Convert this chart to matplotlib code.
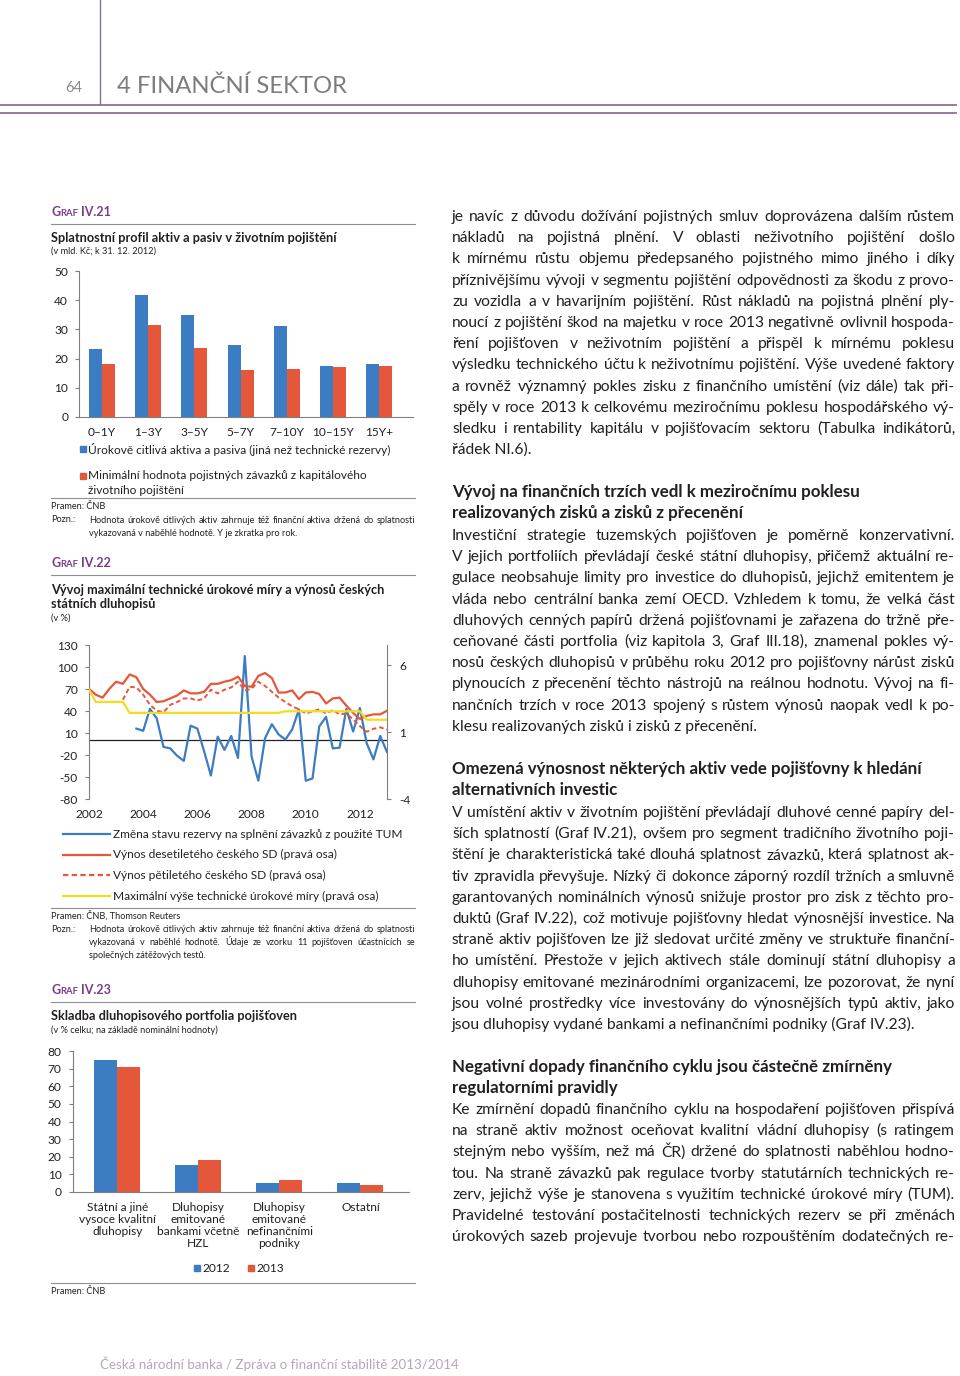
import numpy as np
import matplotlib
matplotlib.use("Agg")
import matplotlib.pyplot as plt
from matplotlib.lines import Line2D
from matplotlib.patches import Rectangle

plt.rcParams["font.family"] = ["Lato", "DejaVu Sans"]
plt.rcParams["axes.unicode_minus"] = False

nan = np.nan

# Graf IV.21 - maturity profile (bn CZK)
maturity = ["0–1Y", "1–3Y", "3–5Y", "5–7Y", "7–10Y", "10–15Y", "15Y+"]
rate_sensitive = [23.3, 41.7, 35.0, 24.5, 31.0, 17.5, 18.0]
min_liabilities = [18.0, 31.5, 23.7, 16.0, 16.5, 17.2, 17.3]

# Graf IV.22 - quarterly, 2002Q1 .. 2013Q1
year_labels = ["2002", "2004", "2006", "2008", "2010", "2012"]
reserve_change = [nan, nan, nan, nan, nan, nan, nan,
                  16, 13, 43, 30, -9, -11, -21, -28, 20, 16, -15, -48, 5, -13,
                  6, -24, 115, -22, -55, 3, 22, 8, 1, 15, 42, -55, -52, 19, 32,
                  -11, -10, 43, 12, 44, -4, -26, 6, -16]
yield_10y = [4.22, 3.79, 3.57, 4.22, 4.76, 4.60, 5.30, 5.09, 4.22, 3.79,
             3.24, 3.30, 3.51, 3.73, 4.11, 3.89, 3.89, 4.00, 4.60, 4.60,
             4.76, 4.87, 5.14, 4.44, 4.38, 5.19, 5.41, 5.03, 3.95, 3.95,
             4.11, 3.46, 3.95, 4.00, 3.84, 3.13, 3.51, 3.57, 2.97, 2.43,
             1.97, 2.21, 2.32, 2.32, 2.59]
yield_5y = [nan, nan, nan, nan, nan,
            3.41, 4.38, 4.33, 3.79, 3.03, 2.59, 2.48, 3.03, 3.24, 3.51,
            3.51, 3.35, 3.51, 4.16, 3.89, 4.16, 4.33, 4.76, 4.11, 4.22,
            4.76, 4.44, 4.00, 3.57, 3.24, 2.92, 2.70, 2.38, 2.54, 2.70,
            2.38, 2.65, 2.32, 2.38, 1.94, 1.45, 1.02, 1.24, 1.35, 1.18]
tech_rate = [4.15, 3.25, 3.25, 3.25, 3.25, 3.25, 2.43, 2.43, 2.43, 2.43,
             2.43, 2.43, 2.43, 2.43, 2.43, 2.43, 2.43, 2.43, 2.43, 2.43,
             2.43, 2.43, 2.43, 2.43, 2.43, 2.43, 2.43, 2.43, 2.43, 2.55,
             2.55, 2.55, 2.55, 2.55, 2.55, 2.55, 2.55, 2.55, 2.55, 2.55,
             2.55, 1.92, 1.92, 1.92, 1.92]

# Graf IV.23 - bond portfolio structure (% of total)
bond_types = ["Státní a jiné\nvysoce kvalitní\ndluhopisy",
              "Dluhopisy\nemitované\nbankami včetně\nHZL",
              "Dluhopisy\nemitované\nnefinančními\npodniky",
              "Ostatní"]
share_2012 = [74.7, 15.5, 5.3, 4.9]
share_2013 = [71.2, 18.3, 6.8, 3.8]

W, H = 960, 1376
INK = "#231f20"
BLUE = "#3c7cc3"
RED = "#e5573a"
YELLOW = "#f5dc1f"
PURPLE = "#7b3c8c"
RULE = "#8f8f8f"
CH = 8.6      # chart text size
NOTE = 6.6    # source / note text size
TITLE = 9.2

fig = plt.figure(figsize=(W / 100, H / 100), dpi=100)
renderer = fig.canvas.get_renderer()


def fx(x):
    return x / W


def fy(y):
    return 1 - y / H


def put(x, y, s, size, **kw):
    kw.setdefault("color", INK)
    kw.setdefault("va", "center")
    return fig.text(fx(x), fy(y), s, fontsize=size, **kw)


def hline(x0, x1, y, color=RULE, lw=0.8):
    fig.add_artist(Line2D([fx(x0), fx(x1)], [fy(y), fy(y)], color=color, lw=lw))


def width_of(s, size, weight="normal"):
    t = put(0, 0, s, size, weight=weight)
    w = t.get_window_extent(renderer).width
    t.remove()
    return w


def fit_one(line, size, span, weight="normal"):
    w = width_of(line, size, weight)
    return size if w <= span else size * span / w


def justify(x0, x1, y, line, size, weight="normal", last=False):
    if last:
        put(x0, y, line, size, weight=weight, va="baseline")
        return
    words = line.split()
    arts = [put(x0, y, w, size, weight=weight, va="baseline") for w in words]
    widths = [a.get_window_extent(renderer).width for a in arts]
    gap = (x1 - x0 - sum(widths)) / max(len(words) - 1, 1)
    x = x0
    for a, w in zip(arts, widths):
        a.set_x(fx(x))
        x += w + gap


def block(x0, x1, y0, pitch, lines, size, last=True):
    for k, line in enumerate(lines):
        justify(x0, x1, y0 + k * pitch, line, fit_one(line, size, x1 - x0),
                last=last and k == len(lines) - 1)


def graf(y, num):
    x = 51
    for s, size in (("G", 9.0), ("RAF", 6.8)):
        t = put(x, y, s, size, weight="bold", color=PURPLE, va="baseline")
        x += t.get_window_extent(renderer).width + 0.5
    put(x + 2.5, y, "IV." + num, 9.0, weight="bold", color=PURPLE, va="baseline")
    hline(51, 415, y + 8)


def style(ax, size=CH):
    ax.set_facecolor("none")
    for s in ax.spines.values():
        s.set_color("#7f7f7f")
        s.set_linewidth(0.8)
    ax.tick_params(axis="y", direction="out", length=3, width=0.8,
                   color="#7f7f7f", labelsize=size, labelcolor=INK, pad=5)
    ax.tick_params(axis="x", length=0, labelsize=size, labelcolor=INK, pad=7)


# ---- page header / footer
fig.add_artist(Line2D([fx(100), fx(100)], [fy(0), fy(104)], color="#8b6f9b", lw=1))
hline(0, 956, 104.5, color="#8b6f9b", lw=1.3)
hline(0, 956, 112.5, color="#8b6f9b", lw=1.3)
put(74, 88, "64", 10.5, color="#8a8a8a", ha="center")
put(117, 86, "4 FINANČNÍ SEKTOR", 17.2, color="#7d7d7d")
put(100, 1364, "Česká národní banka / Zpráva o finanční stabilitě 2013/2014",
    9.6, color="#b7a5bf")

# ---- Graf IV.21
graf(216, "21")
put(51, 238, "Splatnostní profil aktiv a pasiv v životním pojištění", TITLE, weight="bold")
put(51, 251, "(v mld. Kč; k 31. 12. 2012)", NOTE)

ax1 = fig.add_axes([fx(79.3), fy(417), (413 - 79.3) / W, (417 - 271) / H])
xs = np.arange(len(maturity))
bw = 0.28
ax1.bar(xs - bw / 2, rate_sensitive, bw, color=BLUE)
ax1.bar(xs + bw / 2, min_liabilities, bw, color=RED)
ax1.set_xlim(-0.49, 6.73)
ax1.set_ylim(0, 50)
ax1.set_yticks(range(0, 51, 10))
ax1.set_xticks(xs, maturity)
ax1.spines[["top", "right"]].set_visible(False)
style(ax1)

fig.add_artist(Rectangle((fx(80), fy(452)), 6 / W, 6 / H, color=BLUE))
put(88, 449, "Úrokově citlivá aktiva a pasiva (jiná než technické rezervy)", CH)
fig.add_artist(Rectangle((fx(80), fy(479)), 6 / W, 6 / H, color=RED))
put(88, 476, "Minimální hodnota pojistných závazků z kapitálového", CH)
put(88, 490, "životního pojištění", CH)
hline(51, 415, 498)
put(51, 507, "Pramen: ČNB", NOTE)
put(51, 520, "Pozn.:", NOTE)
block(89, 415, 523, 13, [
    "Hodnota úrokově citlivých aktiv zahrnuje též finanční aktiva držená do splatnosti",
    "vykazovaná v naběhlé hodnotě. Y je zkratka pro rok.",
], NOTE)

# ---- Graf IV.22
graf(567, "22")
put(51, 590, "Vývoj maximální technické úrokové míry a výnosů českých", TITLE, weight="bold")
put(51, 604, "státních dluhopisů", TITLE, weight="bold")
put(51, 618, "(v %)", NOTE)

quarters = np.arange(len(yield_10y))
ax2 = fig.add_axes([fx(89), fy(799), (387 - 89) / W, (799 - 645) / H])
ax2.axhline(0, color="#222222", lw=0.9)
ax2.plot(quarters, reserve_change, color=BLUE, lw=1.6)
ax2.set_ylim(-80, 130)
ax2.set_yticks(range(-80, 131, 30))
ax2.set_xlim(0, 44)
ax2.set_xticks(range(0, 41, 8), year_labels)
ax2.spines[["top", "bottom", "right"]].set_visible(False)
style(ax2)

axr = ax2.twinx()
axr.plot(quarters, yield_10y, color=RED, lw=1.6)
axr.plot(quarters, yield_5y, color=RED, lw=1.4, ls=(0, (2.4, 1.5)))
axr.plot(quarters, tech_rate, color=YELLOW, lw=1.6)
axr.set_ylim(-4, 7.5)
axr.set_yticks([-4, 1, 6])
axr.spines[["top", "bottom", "left"]].set_visible(False)
style(axr)
axr.tick_params(axis="y", pad=6)

legend22 = [(BLUE, "-", "Změna stavu rezervy na splnění závazků z použité TUM"),
            (RED, "-", "Výnos desetiletého českého SD (pravá osa)"),
            (RED, (0, (2.4, 1.5)), "Výnos pětiletého českého SD (pravá osa)"),
            (YELLOW, "-", "Maximální výše technické úrokové míry (pravá osa)")]
for k, (c, ls, lab) in enumerate(legend22):
    yy = 834 + k * 20.7
    fig.add_artist(Line2D([fx(63), fx(110)], [fy(yy), fy(yy)], color=c, lw=1.6, ls=ls))
    put(113, yy, lab, CH)
hline(51, 415, 908)
put(51, 916, "Pramen: ČNB, Thomson Reuters", NOTE)
put(51, 929, "Pozn.:", NOTE)
block(89, 415, 932, 13, [
    "Hodnota úrokově citlivých aktiv zahrnuje též finanční aktiva držená do splatnosti",
    "vykazovaná v naběhlé hodnotě. Údaje ze vzorku 11 pojišťoven účastnících se",
    "společných zátěžových testů.",
], NOTE)

# ---- Graf IV.23
graf(994, "23")
put(51, 1016, "Skladba dluhopisového portfolia pojišťoven", TITLE, weight="bold")
put(51, 1030, "(v % celku; na základě nominální hodnoty)", NOTE)

ax3 = fig.add_axes([fx(72.7), fy(1192), (409 - 72.7) / W, (1192 - 1051) / H])
xs = np.arange(len(bond_types))
bw = 0.284
ax3.bar(xs - bw / 2, share_2012, bw, color=BLUE)
ax3.bar(xs + bw / 2, share_2013, bw, color=RED)
ax3.set_xlim(-0.55, 3.6)
ax3.set_ylim(0, 80)
ax3.set_yticks(range(0, 81, 10))
ax3.set_xticks(xs, bond_types, linespacing=1.12, va="top")
ax3.spines[["top", "right"]].set_visible(False)
style(ax3)

fig.add_artist(Rectangle((fx(194), fy(1271)), 6 / W, 6 / H, color=BLUE))
put(202, 1268, "2012", CH)
fig.add_artist(Rectangle((fx(248), fy(1271)), 6 / W, 6 / H, color=RED))
put(256, 1268, "2013", CH)
hline(51, 415, 1283)
put(51, 1291, "Pramen: ČNB", NOTE)

# ---- body text (right column)
PITCH = 21.2
p1 = [
    "je navíc z důvodu dožívání pojistných smluv doprovázena dalším růstem",
    "nákladů na pojistná plnění. V oblasti neživotního pojištění došlo",
    "k mírnému růstu objemu předepsaného pojistného mimo jiného i díky",
    "příznivějšímu vývoji v segmentu pojištění odpovědnosti za škodu z provo-",
    "zu vozidla a v havarijním pojištění. Růst nákladů na pojistná plnění ply-",
    "noucí z pojištění škod na majetku v roce 2013 negativně ovlivnil hospoda-",
    "ření pojišťoven v neživotním pojištění a přispěl k mírnému poklesu",
    "výsledku technického účtu k neživotnímu pojištění. Výše uvedené faktory",
    "a rovněž významný pokles zisku z finančního umístění (viz dále) tak při-",
    "spěly v roce 2013 k celkovému meziročnímu poklesu hospodářského vý-",
    "sledku i rentability kapitálu v pojišťovacím sektoru (Tabulka indikátorů,",
    "řádek NI.6).",
]
h2 = ["Vývoj na finančních trzích vedl k meziročnímu poklesu",
      "realizovaných zisků a zisků z přecenění"]
p2 = [
    "Investiční strategie tuzemských pojišťoven je poměrně konzervativní.",
    "V jejich portfoliích převládají české státní dluhopisy, přičemž aktuální re-",
    "gulace neobsahuje limity pro investice do dluhopisů, jejichž emitentem je",
    "vláda nebo centrální banka zemí OECD. Vzhledem k tomu, že velká část",
    "dluhových cenných papírů držená pojišťovnami je zařazena do tržně pře-",
    "ceňované části portfolia (viz kapitola 3, Graf III.18), znamenal pokles vý-",
    "nosů českých dluhopisů v průběhu roku 2012 pro pojišťovny nárůst zisků",
    "plynoucích z přecenění těchto nástrojů na reálnou hodnotu. Vývoj na fi-",
    "nančních trzích v roce 2013 spojený s růstem výnosů naopak vedl k po-",
    "klesu realizovaných zisků i zisků z přecenění.",
]
h3 = ["Omezená výnosnost některých aktiv vede pojišťovny k hledání",
      "alternativních investic"]
p3 = [
    "V umístění aktiv v životním pojištění převládají dluhové cenné papíry del-",
    "ších splatností (Graf IV.21), ovšem pro segment tradičního životního poji-",
    "štění je charakteristická také dlouhá splatnost závazků, která splatnost ak-",
    "tiv zpravidla převyšuje. Nízký či dokonce záporný rozdíl tržních a smluvně",
    "garantovaných nominálních výnosů snižuje prostor pro zisk z těchto pro-",
    "duktů (Graf IV.22), což motivuje pojišťovny hledat výnosnější investice. Na",
    "straně aktiv pojišťoven lze již sledovat určité změny ve struktuře finanční-",
    "ho umístění. Přestože v jejich aktivech stále dominují státní dluhopisy a",
    "dluhopisy emitované mezinárodními organizacemi, lze pozorovat, že nyní",
    "jsou volné prostředky více investovány do výnosnějších typů aktiv, jako",
    "jsou dluhopisy vydané bankami a nefinančními podniky (Graf IV.23).",
]
h4 = ["Negativní dopady finančního cyklu jsou částečně zmírněny",
      "regulatorními pravidly"]
p4 = [
    "Ke zmírnění dopadů finančního cyklu na hospodaření pojišťoven přispívá",
    "na straně aktiv možnost oceňovat kvalitní vládní dluhopisy (s ratingem",
    "stejným nebo vyšším, než má ČR) držené do splatnosti naběhlou hodno-",
    "tou. Na straně závazků pak regulace tvorby statutárních technických re-",
    "zerv, jejichž výše je stanovena s využitím technické úrokové míry (TUM).",
    "Pravidelné testování postačitelnosti technických rezerv se při změnách",
    "úrokových sazeb projevuje tvorbou nebo rozpouštěním dodatečných re-",
]

# body size: fits all but the few tightest lines, which are shrunk on their own
fits = sorted(fit_one(l, 11.8, 955 - 452) for l in p1 + p2 + p3 + p4)
BODY = fits[4]
# headings: the first heading line spans about 452..858 in the page
HEAD = min(BODY * 406 / width_of(h2[0], BODY, "bold"), BODY * 1.08)


def heading(y0, lines):
    for k, line in enumerate(lines):
        put(452, y0 + k * PITCH + 4, line, HEAD, weight="bold", va="baseline")


block(452, 955, 221, PITCH, p1, BODY)
heading(493, h2)
block(452, 955, 540, PITCH, p2, BODY)
heading(770, h3)
block(452, 955, 817, PITCH, p3, BODY)
heading(1068, h4)
block(452, 955, 1114, PITCH, p4, BODY, last=False)

fig.savefig("out.png", dpi=100)
